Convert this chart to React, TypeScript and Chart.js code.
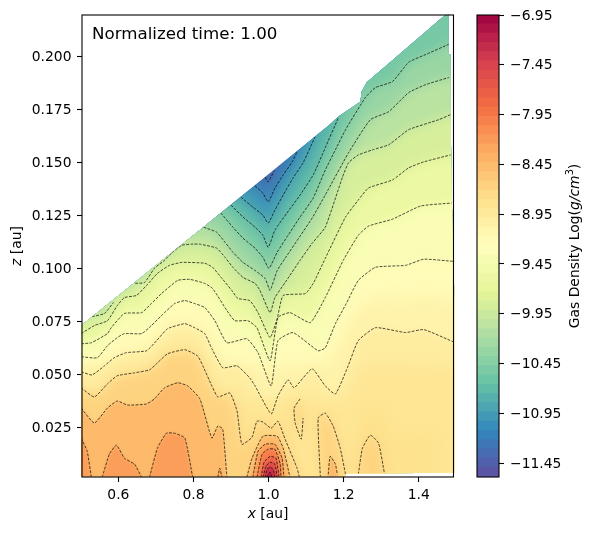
import React, { useEffect, useRef } from "react";
import Chart from "chart.js/auto";

type P = number[];
type Kind = "band" | "ridge" | "shelf" | "dome" | "loop" | "lineOnly";

const xTicks = [0.6, 0.8, 1.0, 1.2, 1.4];
const zTicks = [0.025, 0.05, 0.075, 0.1, 0.125, 0.15, 0.175, 0.2];
const cbTicks = [-6.95, -7.45, -7.95, -8.45, -8.95, -9.45, -9.95, -10.45, -10.95, -11.45];
const densityMin = -11.59;
const densityMax = -6.95;
const levelStep = 0.232;
const colorbarBands = 50;
const spectral = ["#5e4fa2", "#3288bd", "#66c2a5", "#abdda4", "#e6f598", "#ffffbf", "#fee08b", "#fdae61", "#f46d43", "#d53e4f", "#9e0142"];

// outline of the region that holds data (x au, z au)
const domain: P[] = [[.501,.073],[.830,.120],[1.164,.168],[1.186,.1716],[1.245,.1787],[1.247,.183],[1.261,.1877],[1.467,.219],[1.480,.2197],[1.480,.201],[1.485,.201],[1.485,.170],[1.488,.132],[1.495,.085],[1.495,.0036],[1.205,.0032],[1.205,.0018],[.501,.0018]];

const c01: P[] = [[.991,.1431],[.999,.1408],[1.015,.1460]];
const c02: P[] = [[.964,.1389],[.985,.1355],[.999,.1313],[1.017,.1379],[1.039,.1441],[1.063,.1502],[1.076,.1550]];
const c03: P[] = [[.926,.1336],[.958,.1289],[.985,.1251],[.999,.1213],[1.017,.1275],[1.039,.1346],[1.065,.1426],[1.092,.1498],[1.124,.1621]];
const c04: P[] = [[.900,.1298],[.932,.1242],[.964,.1194],[.985,.1156],[.999,.1099],[1.017,.1180],[1.049,.1261],[1.084,.1346],[1.119,.1441],[1.151,.1569],[1.186,.1711]];
const c05: P[] = [[.873,.1261],[.905,.1194],[.932,.1142],[.964,.1095],[.985,.1052],[1.001,.1000],[1.023,.1076],[1.052,.1156],[1.084,.1242],[1.119,.1332],[1.151,.1464],[1.178,.1559],[1.205,.1654],[1.258,.1806],[1.285,.1853],[1.330,.1881],[1.373,.1972],[1.419,.2009],[1.480,.2057]];
const c06: P[] = [[.827,.1194],[.862,.1170],[.884,.1123],[.905,.1076],[.932,.1028],[.964,.0990],[.991,.0952],[1.004,.0896],[1.023,.0990],[1.044,.1047],[1.084,.1152],[1.116,.1237],[1.151,.1346],[1.213,.1545],[1.271,.1701],[1.320,.1739],[1.373,.1829],[1.419,.1867],[1.480,.1900]];
const c07a: P[] = [[.530,.0772],[.563,.0787],[.587,.0839]];
const c07: P[] = [[.645,.0929],[.670,.0933],[.696,.1000],[.723,.1038],[.744,.1076],[.769,.1109],[.795,.1114],[.817,.1114],[.862,.1095],[.884,.1052],[.905,.1005],[.932,.0957],[.964,.0929],[.977,.0896],[1.004,.0791],[1.017,.0862],[1.044,.0933],[1.084,.1038],[1.116,.1118],[1.151,.1194],[1.197,.1431],[1.213,.1498],[1.239,.1535],[1.277,.1559],[1.320,.1583],[1.373,.1654],[1.453,.1701],[1.491,.1730]];
const c08: P[] = [[.501,.0692],[.536,.0730],[.571,.0753],[.597,.0824],[.616,.0862],[.648,.0872],[.675,.0919],[.704,.0976],[.736,.1014],[.769,.1028],[.830,.1024],[.851,.1005],[.876,.0952],[.902,.0896],[.918,.0858],[.950,.0848],[.972,.0791],[1.004,.0673],[1.023,.0763],[1.039,.0872],[1.098,.0881],[1.119,.0929],[1.151,.1047],[1.205,.1242],[1.239,.1322],[1.266,.1379],[1.330,.1417],[1.373,.1474],[1.413,.1502],[1.485,.1535]];
const c09: P[] = [[.501,.0644],[.528,.0649],[.571,.0692],[.581,.0720],[.616,.0787],[.662,.0791],[.688,.0834],[.715,.0881],[.758,.0943],[.790,.0948],[.830,.0929],[.851,.0905],[.889,.0801],[.910,.0753],[.945,.0753],[.969,.0720],[1.004,.0564],[1.025,.0768],[1.057,.0791],[1.111,.0744],[1.151,.0862],[1.199,.1038],[1.239,.1156],[1.266,.1199],[1.330,.1232],[1.405,.1294],[1.488,.1308]];
const c10: P[] = [[.501,.0583],[.544,.0578],[.571,.0635],[.597,.0673],[.616,.0692],[.662,.0692],[.688,.0730],[.715,.0777],[.750,.0834],[.777,.0848],[.803,.0834],[.830,.0815],[.857,.0753],[.889,.0649],[.942,.0668],[.972,.0602],[1.007,.0445],[1.025,.0659],[1.065,.0697],[1.132,.0611],[1.151,.0625],[1.178,.0739],[1.207,.0834],[1.239,.0943],[1.285,.1005],[1.365,.1014],[1.413,.1043],[1.491,.1033]];
const c11: P[] = [[.501,.0512],[.530,.0497],[.563,.0540],[.589,.0578],[.621,.0602],[.675,.0611],[.702,.0659],[.731,.0715],[.777,.0739],[.803,.0720],[.830,.0692],[.849,.0621],[.878,.0531],[.916,.0540],[.950,.0483],[.964,.0445],[1.007,.0313],[1.025,.0398],[1.052,.0474],[1.068,.0436],[1.116,.0526],[1.151,.0445],[1.178,.0407],[1.210,.0531],[1.239,.0659],[1.285,.0720],[1.365,.0697],[1.413,.0711],[1.491,.0654]];
const c12: P[] = [[.501,.0436],[.536,.0393],[.571,.0455],[.597,.0493],[.643,.0507],[.683,.0521],[.704,.0554],[.731,.0597],[.777,.0616],[.811,.0587],[.825,.0540],[.849,.0445],[.865,.0393],[.897,.0412],[.916,.0327],[.929,.0170],[.956,.0203],[.969,.0279],[.985,.0275],[1.007,.0246],[1.025,.0279],[1.044,.0194],[1.076,.0057],[1.082,.0014]];
const c12b: P[] = [[1.084,.0384],[1.068,.0341],[1.071,.0270],[1.087,.0194],[1.092,.0294]];
const c12c: P[] = [[1.138,.0014],[1.132,.0294],[1.151,.0317],[1.172,.0256],[1.191,.0151],[1.205,.0028]];
const c12d: P[] = [[1.239,.0028],[1.250,.0151],[1.271,.0213],[1.293,.0175],[1.309,.0028]];
const c13: P[] = [[.501,.0341],[.536,.0270],[.571,.0341],[.597,.0374],[.624,.0355],[.675,.0360],[.696,.0384],[.723,.0436],[.758,.0460],[.785,.0445],[.817,.0384],[.849,.0199],[.865,.0256],[.878,.0241],[.889,.0014]];
const c13b: P[] = [[.942,.0014],[.956,.0104],[.985,.0208],[1.023,.0208],[1.039,.0151],[1.057,.0014]];
const c13c: P[] = [[1.159,.0028],[1.164,.0113],[1.178,.0076],[1.183,.0028]];
const c14a: P[] = [[.501,.0199],[.517,.0137],[.528,.0014]];
const c14b: P[] = [[.557,.0014],[.576,.0123],[.595,.0166],[.616,.0104],[.643,.0076],[.662,.0014]];
const c14c: P[] = [[.683,.0014],[.704,.0151],[.728,.0222],[.750,.0222],[.777,.0199],[.798,.0014]];
const c14d: P[] = [[.865,.0014],[.870,.0057],[.876,.0014]];
const c14e: P[] = [[.958,.0014],[.972,.0137],[.991,.0170],[1.017,.0170],[1.036,.0104],[1.041,.0014]];
const c15: P[] = [[.969,.0014],[.983,.0123],[.999,.0147],[1.017,.0147],[1.031,.0076],[1.033,.0014]];
const c16: P[] = [[.980,.0014],[.988,.0085],[1.004,.0113],[1.020,.0104],[1.028,.0014]];
const c17: P[] = [[.985,.0014],[.993,.0066],[1.004,.0085],[1.017,.0076],[1.023,.0014]];
const c18: P[] = [[.991,.0014],[.996,.0052],[1.004,.0061],[1.012,.0052],[1.017,.0014]];
const c19: P[] = [[.996,.0014],[1.004,.0038],[1.009,.0014]];
// fill boundaries without a drawn line, in the wide bands at the right
const f105: P[] = [[1.151,.0540],[1.191,.0659],[1.231,.0800],[1.285,.0862],[1.365,.0858],[1.419,.0877],[1.491,.0848]];
const f115: P[] = [[1.151,.0380],[1.205,.0374],[1.239,.0520],[1.285,.0554],[1.405,.0540],[1.491,.0520]];
const f117: P[] = [[1.239,.0028],[1.245,.0294],[1.266,.0350],[1.306,.0327],[1.333,.0232],[1.365,.0194],[1.397,.0241],[1.445,.0199],[1.445,.0028]];

const level = (k: number) => densityMin + k * levelStep;

type Region = { k: number; pts: P[]; kind: Kind; line: boolean };
const lined = (k: number, pts: P[], kind: Kind): Region => ({ k, pts, kind, line: true });
const hidden = (k: number, pts: P[], kind: Kind): Region => ({ k, pts, kind, line: false });

const regions: Region[] = [
  lined(1, c01, "ridge"), lined(2, c02, "ridge"), lined(3, c03, "ridge"), lined(4, c04, "ridge"),
  lined(5, c05, "band"), lined(6, c06, "band"),
  lined(7, c07a, "lineOnly"), lined(7, c07, "lineOnly"), hidden(7, [...c07a, ...c07], "band"),
  lined(8, c08, "band"), lined(9, c09, "band"), lined(10, c10, "band"), lined(11, c11, "band"),
  lined(12, c12, "shelf"), lined(12, c12b, "loop"), lined(12, c12c, "dome"), lined(12, c12d, "dome"),
  lined(13, c13, "shelf"), lined(13, c13b, "dome"), lined(13, c13c, "dome"),
  lined(14, c14a, "shelf"), lined(14, c14b, "dome"), lined(14, c14c, "dome"), lined(14, c14d, "dome"), lined(14, c14e, "dome"),
  lined(15, c15, "dome"), lined(16, c16, "dome"), lined(17, c17, "dome"), lined(18, c18, "dome"), lined(19, c19, "dome"),
  hidden(10.5, f105, "band"), hidden(11.5, f115, "band"), hidden(11.75, f117, "dome"),
];

function hexRgb(h: string) {
  return [1, 3, 5].map((i) => parseInt(h.slice(i, i + 2), 16));
}
function colorOf(v: number) {
  const t = Math.min(1, Math.max(0, (v - densityMin) / (densityMax - densityMin))) * (spectral.length - 1);
  const i = Math.min(spectral.length - 2, Math.floor(t));
  const a = hexRgb(spectral[i]);
  const b = hexRgb(spectral[i + 1]);
  const c = a.map((u, j) => Math.round(u + (b[j] - u) * (t - i)));
  return `rgb(${c[0]},${c[1]},${c[2]})`;
}

type Frag = { text: string; italic?: boolean; sup?: boolean };
const FONT = '"DejaVu Sans"';
function drawRich(ctx: any, frags: Frag[], x: number, y: number, rot: number, size: number) {
  const fontOf = (f: Frag) => `${f.italic ? "italic " : ""}${f.sup ? size * 0.7 : size}px ${FONT}`;
  let w = 0;
  frags.forEach((f) => { ctx.font = fontOf(f); w += ctx.measureText(f.text).width; });
  ctx.save();
  ctx.translate(x, y);
  ctx.rotate(rot);
  ctx.fillStyle = "#000";
  ctx.textAlign = "left";
  ctx.textBaseline = "alphabetic";
  let cur = -w / 2;
  frags.forEach((f) => {
    ctx.font = fontOf(f);
    ctx.fillText(f.text, cur, f.sup ? -size * 0.45 : 0);
    cur += ctx.measureText(f.text).width;
  });
  ctx.restore();
}

const contourFill = {
  id: "contourFill",
  beforeDatasetsDraw(chart: any) {
    const { ctx, chartArea: a } = chart;
    const wedge = chart.getDatasetMeta(0).data;
    ctx.save();
    ctx.beginPath();
    wedge.forEach((p: any, i: number) => (i ? ctx.lineTo(p.x, p.y) : ctx.moveTo(p.x, p.y)));
    ctx.closePath();
    ctx.clip();
    ctx.save();
    ctx.fillStyle = colorOf(level(0.5));
    ctx.fillRect(a.left, a.top, a.right - a.left, a.bottom - a.top);
    const m = 60;
    const order = regions.map((r, i) => ({ r, i })).filter((o) => o.r.kind !== "lineOnly").sort((p, q) => p.r.k - q.r.k);
    const ks = [...new Set(order.map((o) => o.r.k))];
    order.forEach(({ r, i }) => {
      const pts = chart.getDatasetMeta(i + 1).data;
      const nextK = ks[ks.indexOf(r.k) + 1];
      const upper = nextK === undefined ? densityMax : level(nextK);
      ctx.filter = r.k >= 13 ? "blur(1.5px)" : "blur(6px)";
      ctx.fillStyle = colorOf((level(r.k) + upper) / 2);
      ctx.beginPath();
      pts.forEach((p: any, j: number) => (j ? ctx.lineTo(p.x, p.y) : ctx.moveTo(p.x, p.y)));
      const first = pts[0];
      const last = pts[pts.length - 1];
      const floor = a.bottom + m;
      if (r.kind === "band") {
        ctx.lineTo(a.right + m, last.y);
        ctx.lineTo(a.right + m, floor);
        ctx.lineTo(a.left - m, floor);
        ctx.lineTo(a.left - m, first.y);
      } else if (r.kind === "ridge") {
        ctx.lineTo(last.x, a.top - m);
        ctx.lineTo(a.right + m, a.top - m);
        ctx.lineTo(a.right + m, floor);
        ctx.lineTo(a.left - m, floor);
        ctx.lineTo(a.left - m, first.y);
      } else if (r.kind === "shelf") {
        ctx.lineTo(last.x, floor);
        ctx.lineTo(a.left - m, floor);
        ctx.lineTo(a.left - m, first.y);
      } else if (r.kind === "dome") {
        ctx.lineTo(last.x, floor);
        ctx.lineTo(first.x, floor);
      }
      ctx.closePath();
      ctx.fill();
    });
    ctx.restore();
  },
  afterDatasetsDraw(chart: any) {
    chart.ctx.restore();
  },
};

const mainDecor = {
  id: "mainDecor",
  afterDraw(chart: any) {
    const { ctx, chartArea: a } = chart;
    ctx.save();
    ctx.strokeStyle = "#000";
    ctx.lineWidth = 1.1;
    ctx.strokeRect(a.left, a.top, a.right - a.left, a.bottom - a.top);
    ctx.restore();
    ctx.save();
    ctx.font = `16.67px ${FONT}`;
    ctx.fillStyle = "#000";
    ctx.textBaseline = "alphabetic";
    ctx.textAlign = "left";
    ctx.fillText("Normalized time: 1.00", 92, 39);
    ctx.restore();
    drawRich(ctx, [{ text: "x", italic: true }, { text: " [au]" }], 268, 518, 0, 13.89);
    drawRich(ctx, [{ text: "z", italic: true }, { text: " [au]" }], 21, 246, -Math.PI / 2, 13.89);
  },
};

const cbDecor = {
  id: "cbDecor",
  afterDraw(chart: any) {
    const { ctx, chartArea: a } = chart;
    ctx.save();
    ctx.strokeStyle = "#000";
    ctx.lineWidth = 1.1;
    ctx.strokeRect(a.left, a.top, a.right - a.left, a.bottom - a.top);
    ctx.restore();
    drawRich(ctx, [{ text: "Gas Density Log(" }, { text: "g/cm", italic: true }, { text: "3", sup: true }, { text: ")" }], 579, 246, -Math.PI / 2, 13.89);
  },
};

const tickStyle = {
  grid: { drawOnChartArea: false, drawTicks: true, tickLength: 5, tickWidth: 1.1, tickColor: "#000" },
  border: { display: false },
};

export default function App() {
  const mainRef = useRef<HTMLCanvasElement>(null);
  const cbRef = useRef<HTMLCanvasElement>(null);
  useEffect(() => {
    const regionSets = [
      { label: "domain", data: domain.map(([x, y]) => ({ x, y })), showLine: false, pointRadius: 0 },
      ...regions.map((r) => ({
        label: `level ${level(r.k).toFixed(2)}`,
        data: r.pts.map(([x, y]) => ({ x, y })),
        showLine: r.line,
        borderColor: "#000",
        borderWidth: 0.7,
        borderDash: [2.8, 1.4],
        tension: 0.15,
        pointRadius: 0,
        fill: false,
      })),
    ];
    const main = new Chart(mainRef.current as any, {
      type: "scatter",
      data: { datasets: regionSets as any },
      plugins: [contourFill, mainDecor],
      options: {
        animation: false,
        responsive: false,
        devicePixelRatio: 1,
        layout: { padding: { left: 0, top: 15, right: 143.5, bottom: 0 } },
        plugins: { legend: { display: false }, tooltip: { enabled: false } },
        scales: {
          x: {
            type: "linear", min: 0.5032, max: 1.4925,
            afterBuildTicks: (s: any) => { s.ticks = xTicks.map((value) => ({ value })); },
            afterFit: (s: any) => { s.height = 56; },
            ticks: { color: "#000", font: { family: FONT, size: 13.89 }, padding: 5, maxRotation: 0, autoSkip: false, callback: (v: any) => Number(v).toFixed(1) },
            ...tickStyle,
          },
          y: {
            type: "linear", min: 0.00156, max: 0.2195,
            afterBuildTicks: (s: any) => { s.ticks = zTicks.map((value) => ({ value })); },
            afterFit: (s: any) => { s.width = 82; },
            ticks: { color: "#000", font: { family: FONT, size: 13.89 }, padding: 5.5, labelOffset: 1, autoSkip: false, callback: (v: any) => Number(v).toFixed(3) },
            ...tickStyle,
          },
        },
      } as any,
    });
    const bandH = (densityMax - densityMin) / colorbarBands;
    const bands = Array.from({ length: colorbarBands }, (_, i) => {
      const lo = densityMin + i * bandH;
      return {
        label: `band ${i}`,
        data: [[lo, lo + bandH * 1.05]],
        backgroundColor: colorOf(lo + bandH / 2),
        borderWidth: 0,
        barPercentage: 1,
        categoryPercentage: 1,
        grouped: false,
      };
    });
    const cb = new Chart(cbRef.current as any, {
      type: "bar",
      data: { labels: ["density"], datasets: bands as any },
      plugins: [cbDecor],
      options: {
        animation: false,
        responsive: false,
        devicePixelRatio: 1,
        layout: { padding: { left: 477, top: 15, right: 0, bottom: 56 } },
        plugins: { legend: { display: false }, tooltip: { enabled: false } },
        scales: {
          x: { type: "category", display: false },
          y: {
            type: "linear", position: "right", min: densityMin, max: densityMax,
            afterBuildTicks: (s: any) => { s.ticks = cbTicks.map((value) => ({ value })); },
            afterFit: (s: any) => { s.width = 98; },
            ticks: { color: "#000", font: { family: FONT, size: 13.89 }, padding: 6, labelOffset: 1, autoSkip: false, callback: (v: any) => `\u2212${Math.abs(Number(v)).toFixed(2)}` },
            ...tickStyle,
          },
        },
      } as any,
    });
    return () => { main.destroy(); cb.destroy(); };
  }, []);
  const style: React.CSSProperties = { position: "absolute", left: 0, top: 0 };
  return (
    <div style={{ position: "absolute", left: 0, top: 0, width: 597, height: 533, background: "#fff" }}>
      <canvas ref={mainRef} width={597} height={533} style={style} />
      <canvas ref={cbRef} width={597} height={533} style={style} />
    </div>
  );
}
